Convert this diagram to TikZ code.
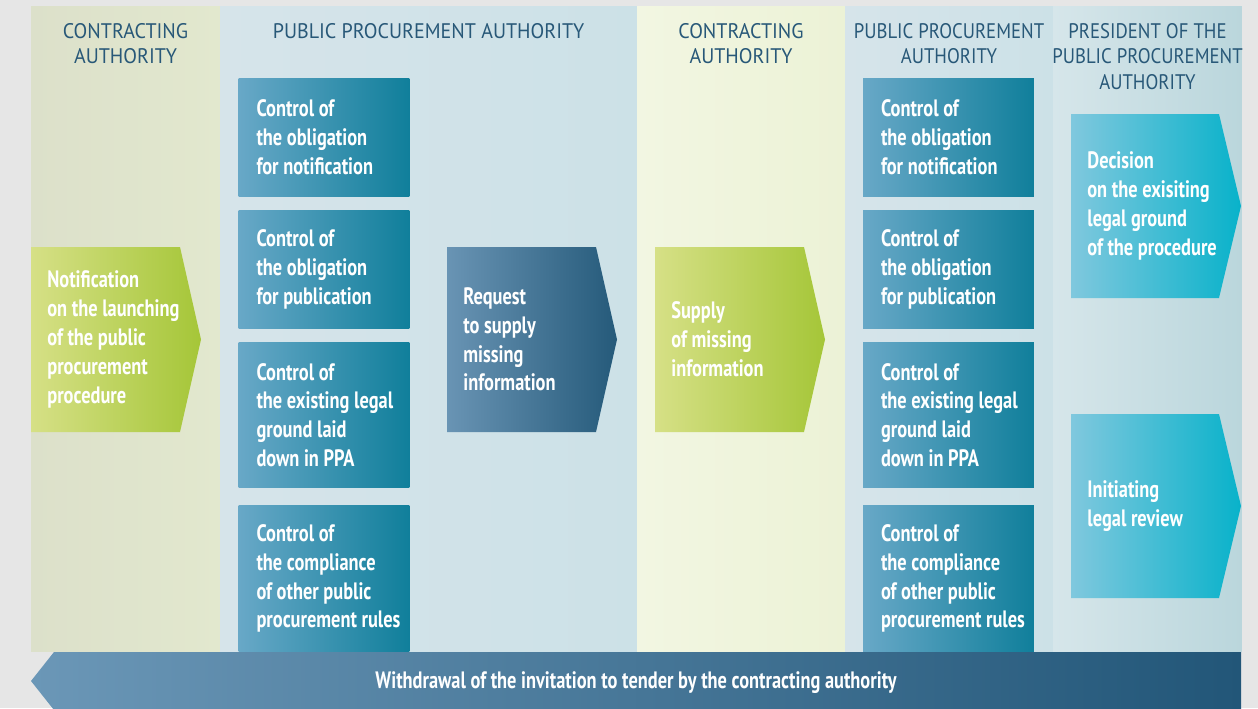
\documentclass[tikz,border=0pt]{standalone}
\usepackage{fontspec}
\setmainfont{PT Sans}
\newfontfamily\headfont{PT Sans}[FakeStretch=0.95]
\newfontfamily\narrowheadfont{PT Sans}[FakeStretch=0.89]
\newfontfamily\condfont{PT Sans}[FakeStretch=0.775]
\usepackage{xcolor}
\usetikzlibrary{positioning}

\definecolor{pagegray}{RGB}{230,230,230}
\definecolor{headblue}{RGB}{40,88,120}
\definecolor{cagreenl}{RGB}{220,224,202}
\definecolor{cagreenr}{RGB}{226,232,206}
\definecolor{capalel}{RGB}{242,246,226}
\definecolor{capaler}{RGB}{236,242,214}
\definecolor{ppabluel}{RGB}{214,228,234}
\definecolor{ppabluer}{RGB}{204,225,231}
\definecolor{presbluel}{RGB}{214,230,234}
\definecolor{presbluer}{RGB}{186,214,220}
\definecolor{boxlight}{RGB}{104,168,199}
\definecolor{boxdark}{RGB}{16,127,155}
\definecolor{reqlight}{RGB}{105,148,180}
\definecolor{reqdark}{RGB}{37,90,122}
\definecolor{chgreenl}{RGB}{214,224,134}
\definecolor{chgreenr}{RGB}{165,198,56}
\definecolor{decilight}{RGB}{128,200,222}
\definecolor{decidark}{RGB}{8,178,202}
\definecolor{withlight}{RGB}{107,151,183}
\definecolor{withdark}{RGB}{34,86,120}

\begin{document}
\begin{tikzpicture}[
  x=0.02cm, y=-0.02cm,
  column/.style={
    rectangle,
    inner sep=0pt,
    minimum height=12.92cm
  },
  head/.style={
    align=center,
    inner sep=0pt,
    text=headblue,
    font=\headfont\fontsize{12}{14.5}\selectfont
  },
  narrowhead/.style={
    head,
    font=\narrowheadfont\fontsize{12}{14.5}\selectfont
  },
  ctrlbox/.style={
    rectangle,
    inner sep=0pt,
    minimum width=3.42cm,
    left color=boxlight,
    right color=boxdark
  },
  boxtext/.style={
    align=left,
    inner sep=0pt,
    text=white,
    font=\condfont\bfseries\fontsize{13.5}{16.4}\selectfont
  },
  greenchev/.style={left color=chgreenl, right color=chgreenr},
  reqchev/.style={left color=reqlight, right color=reqdark},
  decichev/.style={left color=decilight, right color=decidark}
]

\fill[pagegray] (0,0) rectangle (1258,708);
\useasboundingbox (0,0) rectangle (1258,708);

% =========================================================
% Columns and their headings
% =========================================================
\node[column, minimum width=3.78cm, left color=cagreenl, right color=cagreenr] (col1) at (125.5,329) {};
\node[column, minimum width=8.34cm, left color=ppabluel, right color=ppabluer] (col2) at (428.5,329) {};
\node[column, minimum width=4.16cm, left color=capalel, right color=capaler] (col3) at (741,329) {};
\node[column, minimum width=4.16cm, left color=ppabluel, right color=ppabluer] (col4) at (949,329) {};
\node[column, minimum width=3.78cm, left color=presbluel, right color=presbluer] (col5) at (1147.5,329) {};

\node[head, below=0.34cm of col1.north] (head1) {CONTRACTING\\AUTHORITY};
\node[head, below=0.34cm of col2.north] (head2) {PUBLIC PROCUREMENT AUTHORITY};
\node[head, below=0.34cm of col3.north] (head3) {CONTRACTING\\AUTHORITY};
\node[narrowhead, below=0.34cm of col4.north] (head4) {PUBLIC PROCUREMENT\\AUTHORITY};
\node[narrowhead, below=0.34cm of col5.north] (head5) {PRESIDENT OF THE\\PUBLIC PROCUREMENT\\AUTHORITY};

% =========================================================
% Controls by the authority (first round)
% =========================================================
\node[ctrlbox, minimum height=2.38cm] (ctrlA1) at (324,137.5) {};
\node[ctrlbox, minimum height=2.38cm] (ctrlA2) at (324,269.5) {};
\node[ctrlbox, minimum height=2.92cm] (ctrlA3) at (324,415) {};
\node[ctrlbox, minimum height=2.94cm] (ctrlA4) at (324,578.5) {};

\node[boxtext, right=0.36cm of ctrlA1.west] (txtA1) {Control of\\the obligation\\for notification};
\node[boxtext, right=0.36cm of ctrlA2.west] (txtA2) {Control of\\the obligation\\for publication};
\node[boxtext, right=0.36cm of ctrlA3.west] (txtA3) {Control of\\the existing legal\\ground laid\\down in PPA};
\node[boxtext, right=0.36cm of ctrlA4.west] (txtA4) {Control of\\the compliance\\of other public\\procurement rules};

% =========================================================
% Controls by the authority (second round)
% =========================================================
\node[ctrlbox, minimum height=2.38cm] (ctrlB1) at (948.5,137.5) {};
\node[ctrlbox, minimum height=2.38cm] (ctrlB2) at (948.5,269.5) {};
\node[ctrlbox, minimum height=2.92cm] (ctrlB3) at (948.5,415) {};
\node[ctrlbox, minimum height=2.94cm] (ctrlB4) at (948.5,578.5) {};

\node[boxtext, right=0.36cm of ctrlB1.west] (txtB1) {Control of\\the obligation\\for notification};
\node[boxtext, right=0.36cm of ctrlB2.west] (txtB2) {Control of\\the obligation\\for publication};
\node[boxtext, right=0.36cm of ctrlB3.west] (txtB3) {Control of\\the existing legal\\ground laid\\down in PPA};
\node[boxtext, right=0.36cm of ctrlB4.west] (txtB4) {Control of\\the compliance\\of other public\\procurement rules};

% =========================================================
% Steps (pointed to the right)
% =========================================================
\path[greenchev] (31,247) -- (180,247) -- (201,339.5) -- (180,432) -- (31,432) -- cycle;
\node[boxtext, anchor=west] (notif) at (47,339.5) {Notification\\on the launching\\of the public\\procurement\\procedure};

\path[reqchev] (447,247) -- (596,247) -- (617,339.5) -- (596,432) -- (447,432) -- cycle;
\node[boxtext, anchor=west] (request) at (463,339.5) {Request\\to supply\\missing\\information};

\path[greenchev] (655,247) -- (804,247) -- (825,339.5) -- (804,432) -- (655,432) -- cycle;
\node[boxtext, anchor=west] (supply) at (671,339.5) {Supply\\of missing\\information};

\path[decichev] (1071,114) -- (1219,114) -- (1241,206) -- (1219,298) -- (1071,298) -- cycle;
\node[boxtext, anchor=west] (decision) at (1087,206) {Decision\\on the exisiting\\legal ground\\of the procedure};

\path[decichev] (1071,414) -- (1219,414) -- (1241,506) -- (1219,598) -- (1071,598) -- cycle;
\node[boxtext, anchor=west] (review) at (1087,506) {Initiating\\legal review};

% =========================================================
% Withdrawal (pointed to the left)
% =========================================================
\path[left color=withlight, right color=withdark] (54,652) -- (1241,652) -- (1241,710) -- (54,710) -- (31,681) -- cycle;
\node[boxtext] (withdraw) at (636,683) {Withdrawal of the invitation to tender by the contracting authority};

\end{tikzpicture}
\end{document}
